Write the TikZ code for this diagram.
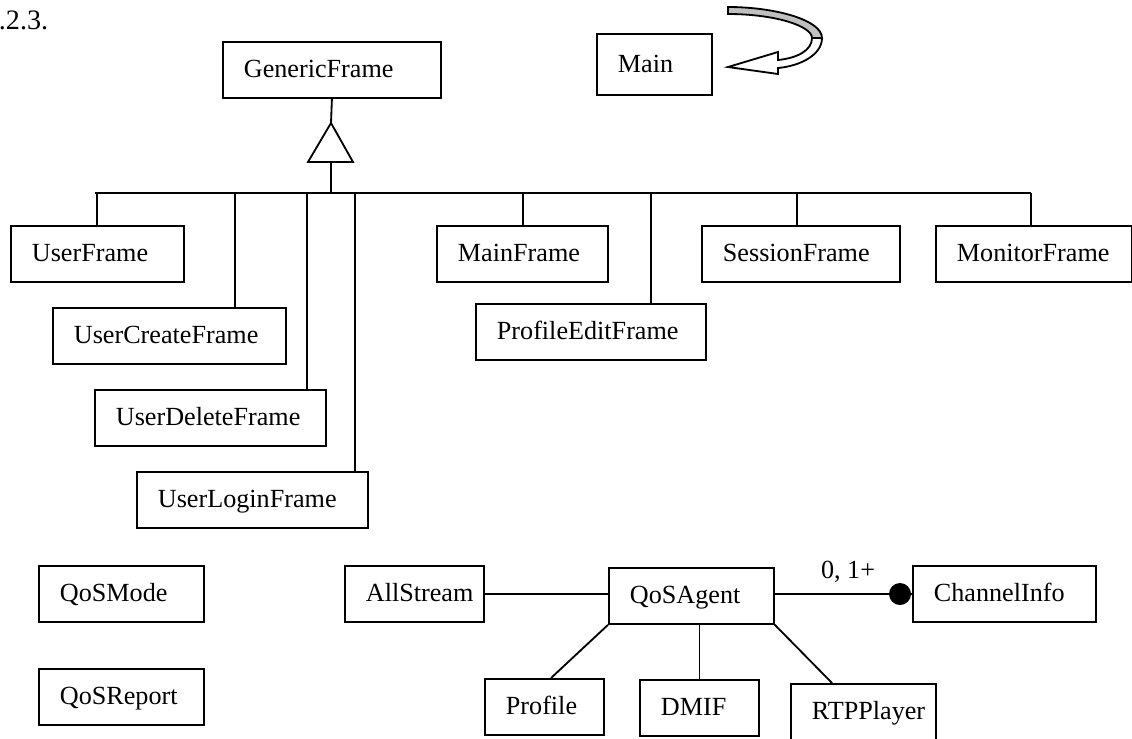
\documentclass[tikz,border=0pt]{standalone}
\usepackage{fontspec}
\setmainfont{Liberation Serif}
\definecolor{bandgray}{RGB}{192,192,192}
\begin{document}
\begin{tikzpicture}[x=0.025cm,y=-0.025cm,
  line width=1.3pt,
  txt/.style={font=\fontsize{18.6pt}{22pt}\selectfont},
  cls/.style={txt, draw, anchor=north west, inner xsep=0.525cm, inner ysep=0pt,
    minimum height=1.4cm, align=left, text height=14pt, text depth=2.6pt},
  bw/.code={\pgfmathsetlengthmacro\clsw{(#1-42)*0.025cm}%
    \edef\clstmp{\noexpand\pgfkeysalso{/tikz/text width=\clsw}}\clstmp},
]
\useasboundingbox (0,0) rectangle (1132,738);

% section number
\node[font=\fontsize{20pt}{24pt}\selectfont, anchor=west, inner sep=0] (secno) at (-2,20) {.2.3.};

% frame classes
\node[cls, bw=218] (GenericFrame) at (222,41) {GenericFrame};
\node[cls, bw=115, minimum height=1.525cm] (Main) at (596,33) {Main};
\node[cls, bw=173] (UserFrame) at (10,225) {UserFrame};
\node[cls, bw=233] (UserCreateFrame) at (52,307) {UserCreateFrame};
\node[cls, bw=231] (UserDeleteFrame) at (94,389) {UserDeleteFrame};
\node[cls, bw=231] (UserLoginFrame) at (136,471) {UserLoginFrame};
\node[cls, bw=171] (MainFrame) at (436,225) {MainFrame};
\node[cls, bw=230] (ProfileEditFrame) at (475,303) {ProfileEditFrame};
\node[cls, bw=198] (SessionFrame) at (701,225) {SessionFrame};
\node[cls, bw=196] (MonitorFrame) at (935,225) {MonitorFrame};

% QoS classes
\node[cls, bw=165] (QoSMode) at (38,565) {QoSMode};
\node[cls, bw=165] (QoSReport) at (38,668) {QoSReport};
\node[cls, bw=139] (AllStream) at (344,565) {AllStream};
\node[cls, bw=165] (QoSAgent) at (608,567) {QoSAgent};
\node[cls, bw=183] (ChannelInfo) at (912,565) {ChannelInfo};
\node[cls, bw=119] (Profile) at (484,678) {Profile};
\node[cls, bw=119] (DMIF) at (639,679) {DMIF};
\node[cls, bw=145] (RTPPlayer) at (790,683) {RTPPlayer};

% generalisation tree
\coordinate (apex) at (331,123);
\coordinate (tribase) at (331,162);
\coordinate (junction) at (331,193);
\coordinate (barL) at (95,193);
\coordinate (barR) at (1031,193);
\draw (GenericFrame.south) -- (apex);
\draw[fill=white] (apex) -- (353,162) -- (308,162) -- cycle;
\draw (tribase) -- (junction);
\draw (barL) -- (barR);

\coordinate (dUser) at (97,193);
\coordinate (dCreate) at (235,193);
\coordinate (dDelete) at (307,193);
\coordinate (dLogin) at (355,193);
\coordinate (dMain) at (523,193);
\coordinate (dProfile) at (651,193);
\coordinate (dSession) at (797,193);
\coordinate (dMonitor) at (1031,193);
\draw (dUser) -- (dUser |- UserFrame.north);
\draw (dCreate) -- (dCreate |- UserCreateFrame.north);
\draw (dDelete) -- (dDelete |- UserDeleteFrame.north);
\draw (dLogin) -- (dLogin |- UserLoginFrame.north);
\draw (dMain) -- (dMain |- MainFrame.north);
\draw (dProfile) -- (dProfile |- ProfileEditFrame.north);
\draw (dSession) -- (dSession |- SessionFrame.north);
\draw (dMonitor) -- (dMonitor |- MonitorFrame.north);

% self reference arrow at Main
\draw[fill=bandgray] (728,7) .. controls (775,7) and (822,20) .. (822,38)
  -- (812,38) .. controls (812,26) and (775,14) .. (728,14) -- cycle;
\draw[fill=white] (822,38) .. controls (822,55) and (800,66) .. (778,68)
  -- (778,74) -- (728,67) -- (778,52) -- (778,60)
  .. controls (798,58) and (812,50) .. (812,38) -- cycle;

% QoS associations
\node[circle, fill, inner sep=0pt, minimum size=0.55cm] (dot) at (900,594) {};
\draw (AllStream.east) -- (AllStream.east -| QoSAgent.west);
\draw (QoSAgent.east |- dot.center) -- (dot.center);
\draw (dot.center) -- (dot.center -| ChannelInfo.west);
\node[txt, inner sep=0] (mult) at (848,572) {0, 1+};
\draw (QoSAgent.south west) -- ([xshift=1.675cm]Profile.north west);
\draw (DMIF.north |- QoSAgent.south) -- (DMIF.north);
\draw (QoSAgent.south east) -- ([xshift=1.05cm]RTPPlayer.north west);
\end{tikzpicture}
\end{document}
